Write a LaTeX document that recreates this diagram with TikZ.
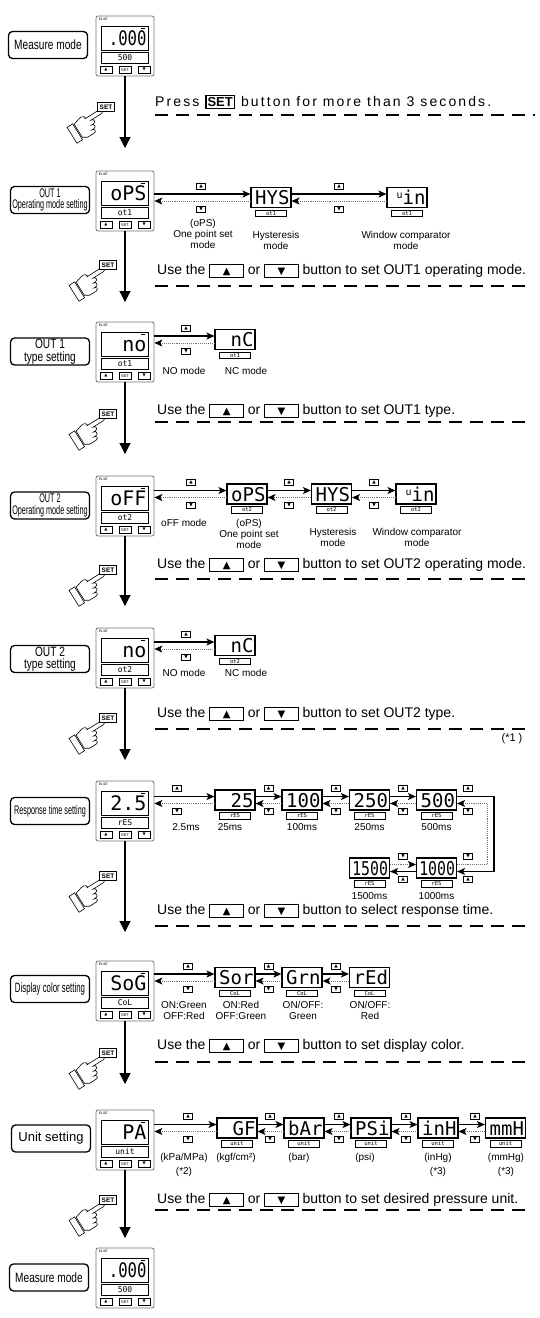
\documentclass[tikz,border=0pt]{standalone}
\usepackage{fontspec}
\setmainfont{Liberation Sans}
\newfontfamily\narrowfont[FakeStretch=0.75]{Liberation Sans}
\newfontfamily\xnarrowfont[FakeStretch=0.58]{Liberation Sans}
\newfontfamily\segfont{DejaVu Sans Mono}
\newfontfamily\segnarrow[FakeStretch=0.78]{DejaVu Sans Mono}
\newfontfamily\symfont{DejaVu Sans}
\newfontfamily\widefont[LetterSpace=15]{Liberation Sans}
\usetikzlibrary{positioning,arrows.meta}

\newcommand\upkey{{\symfont ▲}}
\newcommand\dnkey{{\symfont ▼}}
\newcommand\txtkey[1]{{\setlength\fboxsep{0pt}\setlength\fboxrule{0.8pt}\fbox{\makebox[33pt]{\rule[-2.5pt]{0pt}{12.5pt}\fontsize{10}{10}\symfont #1}}}}
\newcommand\txtset{{\setlength\fboxsep{1pt}\setlength\fboxrule{1.2pt}\fbox{\fontsize{13}{13}\rmfamily\bfseries SET}}}

% controller with display, sub display and keys
\newcommand\device[5]{%
  \node[devbox] (#1) at (#2,#3) {};
  \node[elsetag, anchor=north west] (#1e) at ([shift={(3pt,-2pt)}]#1.north west) {ELSE};
  \node[devlcd, anchor=north] (#1d) at ([yshift=-10pt]#1.north) {#4};
  \fill ([shift={(-8pt,-2pt)}]#1d.north east) rectangle ++(4pt,-1.5pt);
  \node[devsub, below=1pt of #1d] (#1s) {#5};
  \node[devkey, anchor=south west] (#1u) at ([shift={(4pt,3pt)}]#1.south west) {\upkey};
  \node[devkey, anchor=south] (#1k) at ([yshift=3pt]#1.south) {SET};
  \node[devkey, anchor=south east] (#1w) at ([shift={(-4pt,3pt)}]#1.south east) {\dnkey};
}
% small display
\newcommand\panel[5]{%
  \node[lcd] (#1) at (#2,#3) {#4};
  \node[lcdsub, below=1.5pt of #1] (#1s) {#5};
}
% up/down arrows between two displays
\newcommand\link[2]{%
  \draw[fwd] ([yshift=3.5pt]#2.west -| #1.east) -- ([yshift=3.5pt]#2.west);
  \draw[bwd] ([yshift=-3.5pt]#2.west) -- ([yshift=-3.5pt]#2.west -| #1.east);
}
\newcommand\keypair[5]{%
  \node[key] (#1a) at (#2,#3+11.5) {#4};
  \node[key] (#1b) at (#2,#3-11.5) {#5};
}
% hand pressing SET
\newcommand\pressset[3]{%
  \begin{scope}[shift={(#2-7,#3-3)}, rotate=32, scale=1.1, line width=0.6pt]
    \draw (0,0) arc[start angle=90,end angle=-90,radius=2]
      -- (-11,-4) .. controls (-8,-4) and (-8,-8) .. (-11,-8)
      -- (-13,-8) .. controls (-10,-8) and (-10,-12) .. (-13,-12)
      -- (-15,-12) .. controls (-12,-12) and (-12,-15.5) .. (-15,-15.5)
      -- (-22,-15.5) -- (-26,-13) -- (-26,1) -- (-19,3)
      .. controls (-16,4) and (-13,1) .. (-15,0) -- cycle;
    \draw (-33,-15) rectangle (-27,2);
  \end{scope}
  \node[setkey] (#1) at (#2,#3) {SET};
}

\begin{document}
\begin{tikzpicture}[x=1pt,y=1pt,
  lbl/.style={draw, line width=1.3pt, rounded corners=4pt, minimum width=79pt, minimum height=27pt, inner sep=1pt, align=center},
  devbox/.style={draw=black!55, line width=0.8pt, rounded corners=2pt, minimum width=58pt, minimum height=60pt, inner sep=0pt},
  elsetag/.style={font=\fontsize{3.5}{3.5}\selectfont\itshape, inner sep=0pt},
  devlcd/.style={draw, line width=1.2pt, minimum width=47pt, minimum height=24pt, inner sep=0pt, text width=43pt, align=right, text height=14pt, text depth=0pt, font=\fontsize{20}{20}\segfont},
  devsub/.style={draw, line width=0.9pt, minimum width=47pt, minimum height=11pt, inner sep=0pt, font=\fontsize{8}{8}\segfont},
  devkey/.style={draw, line width=0.5pt, minimum width=12pt, minimum height=6.5pt, inner sep=0pt, font=\fontsize{4}{4}\selectfont},
  lcd/.style={draw, line width=1.1pt, minimum width=40pt, minimum height=20pt, inner sep=0pt, text width=37pt, align=right, text height=14pt, text depth=0pt, font=\fontsize{19}{19}\segfont},
  lcdsub/.style={draw, line width=0.7pt, minimum width=31pt, minimum height=6.5pt, inner sep=0pt, font=\fontsize{5.5}{5.5}\segfont},
  key/.style={draw, line width=0.5pt, minimum width=9pt, minimum height=6pt, inner sep=0pt, font=\fontsize{4.5}{4.5}\symfont},
  setkey/.style={draw, fill=white, line width=0.7pt, minimum width=17pt, minimum height=9pt, inner sep=0.5pt, font=\fontsize{6.5}{6.5}\selectfont\bfseries},
  fwd/.style={line width=1.3pt, -{Stealth[length=8pt,width=7pt,inset=2pt]}},
  bwd/.style={line width=0.9pt, black!55, densely dotted, -{Stealth[length=8pt,width=7pt,inset=2pt,color=black]}},
  flow/.style={line width=1.2pt, -{Triangle[length=11pt,width=11pt]}},
  sepline/.style={line width=2pt, dash pattern=on 13pt off 8pt},
  instr/.style={anchor=west, inner sep=0pt, font=\fontsize{14}{14}\selectfont},
  note/.style={align=center, inner sep=0pt, anchor=north, font=\fontsize{10}{11}\selectfont}]
\useasboundingbox (0,0) rectangle (540,-1318);

% measure mode
\node[lbl, font=\fontsize{13.5}{14}\narrowfont] (L1) at (48,-45) {Measure mode};
\device{d1}{125}{-46}{{\segnarrow .000}}{500}
\pressset{s1}{106}{-107}
\node[instr, font=\fontsize{14}{14}\widefont] (i1) at (155,-102) {Press \txtset\ button for more than 3 seconds.};
\draw[sepline] (155,-115) -- (535,-115);
\coordinate (t1) at (125,-148);
\draw[flow] (d1.south) -- (t1);

% OUT1 operating mode
\node[lbl, font=\fontsize{12.5}{11.5}\xnarrowfont] (L2) at (50,-200) {OUT 1\\Operating mode setting};
\device{d2}{125}{-201}{oPS}{ot1}
\panel{p21}{271}{-197.5}{HYS}{ot1}
\panel{p22}{407}{-197.5}{{\fontsize{10}{10}\selectfont\raisebox{6pt}{u}}in}{ot1}
\link{d2}{p21}
\link{p21}{p22}
\keypair{k21}{201}{-197.5}{\upkey}{\dnkey}
\keypair{k22}{339}{-197.5}{\upkey}{\dnkey}
\node[note] (n21) at (203,-219) {(oPS)\\One point set\\mode};
\node[note] (n22) at (276,-231) {Hysteresis\\mode};
\node[note] (n23) at (406,-231) {Window comparator\\mode};
\pressset{s2}{108}{-265}
\node[instr] (i2) at (157,-271) {Use the \txtkey{▲} or \txtkey{▼} button to set OUT1 operating mode.};
\draw[sepline] (155,-286) -- (530,-286);
\coordinate (t2) at (125,-302);
\draw[flow] (d2.south) -- (t2);

% OUT1 type
\node[lbl, font=\fontsize{13.5}{12.5}\narrowfont] (L3) at (50,-351.5) {OUT 1\\type setting};
\device{d3}{125}{-352}{no}{ot1}
\panel{p31}{235}{-339.5}{nC}{ot1}
\link{d3}{p31}
\keypair{k31}{186}{-339.5}{\upkey}{\dnkey}
\node[note] (n31) at (184,-367) {NO mode};
\node[note] (n32) at (246,-367) {NC mode};
\pressset{s3}{108}{-414}
\node[instr] (i3) at (157,-411) {Use the \txtkey{▲} or \txtkey{▼} button to set OUT1 type.};
\draw[sepline] (155,-422) -- (530,-422);
\coordinate (t3) at (125,-454);
\draw[flow] (d3.south) -- (t3);

% OUT2 operating mode
\node[lbl, font=\fontsize{12.5}{11.5}\xnarrowfont] (L4) at (50,-505.5) {OUT 2\\Operating mode setting};
\device{d4}{125}{-506}{oFF}{ot2}
\panel{p41}{247}{-494}{oPS}{ot2}
\panel{p42}{331.5}{-494}{HYS}{ot2}
\panel{p43}{416}{-494}{{\fontsize{10}{10}\selectfont\raisebox{6pt}{u}}in}{ot2}
\link{d4}{p41}
\link{p41}{p42}
\link{p42}{p43}
\keypair{k41}{191}{-494}{\upkey}{\dnkey}
\keypair{k42}{289}{-494}{\upkey}{\dnkey}
\keypair{k43}{374}{-494}{\upkey}{\dnkey}
\node[note] (n41) at (184,-519) {oFF mode};
\node[note] (n42) at (249,-519) {(oPS)\\One point set\\mode};
\node[note] (n43) at (333,-528) {Hysteresis\\mode};
\node[note] (n44) at (417,-528) {Window comparator\\mode};
\pressset{s4}{108}{-570}
\node[instr] (i4) at (157,-565) {Use the \txtkey{▲} or \txtkey{▼} button to set OUT2 operating mode.};
\draw[sepline] (155,-579) -- (530,-579);
\coordinate (t4) at (125,-606);
\draw[flow] (d4.south) -- (t4);

% OUT2 type
\node[lbl, font=\fontsize{13.5}{12.5}\narrowfont] (L5) at (50,-659) {OUT 2\\type setting};
\device{d5}{125}{-658}{no}{ot2}
\panel{p51}{235}{-645.5}{nC}{ot2}
\link{d5}{p51}
\keypair{k51}{186}{-645.5}{\upkey}{\dnkey}
\node[note] (n51) at (184,-669) {NO mode};
\node[note] (n52) at (246,-669) {NC mode};
\pressset{s5}{108}{-718}
\node[instr] (i5) at (157,-714) {Use the \txtkey{▲} or \txtkey{▼} button to set OUT2 type.};
\draw[sepline] (155,-729) -- (530,-729);
\node[inner sep=0pt, font=\fontsize{11}{11}\selectfont] (c1) at (512,-739) {(*1 )};
\coordinate (t5) at (125,-760);
\draw[flow] (d5.south) -- (t5);

% response time
\node[lbl, font=\fontsize{12.5}{12}\xnarrowfont] (L6) at (50,-811) {Response time setting};
\device{d6}{125}{-811}{2.5}{rES}
\panel{p61}{235}{-800}{25}{rES}
\panel{p62}{302}{-800}{100}{rES}
\panel{p63}{369.5}{-800}{250}{rES}
\panel{p64}{436.5}{-800}{500}{rES}
\panel{p65}{436.5}{-868}{{\segnarrow 1000}}{rES}
\panel{p66}{369.5}{-868}{{\segnarrow 1500}}{rES}
\link{d6}{p61}
\link{p61}{p62}
\link{p62}{p63}
\link{p63}{p64}
\coordinate (rc) at (494,-800);
\coordinate (rd) at (487,-800);
\draw[fwd] ([yshift=3.5pt]p64.east) -- ([yshift=3.5pt]p64.east -| rc) |- ([yshift=-3.5pt]p65.east);
\draw[bwd] ([yshift=3.5pt]p65.east) -- ([yshift=3.5pt]p65.east -| rd) |- ([yshift=-3.5pt]p64.east);
\draw[bwd] ([yshift=3.5pt]p66.east) -- ([yshift=3.5pt]p65.west);
\draw[fwd] ([yshift=-3.5pt]p65.west) -- ([yshift=-3.5pt]p66.east);
\keypair{k61}{177}{-800}{\upkey}{\dnkey}
\keypair{k62}{268.5}{-800}{\upkey}{\dnkey}
\keypair{k63}{336}{-800}{\upkey}{\dnkey}
\keypair{k64}{403}{-800}{\upkey}{\dnkey}
\keypair{k65}{468}{-800}{\upkey}{\dnkey}
\keypair{k66}{403}{-868}{\dnkey}{\upkey}
\keypair{k67}{468}{-868}{\dnkey}{\upkey}
\node[note] (n61) at (186,-823) {2.5ms};
\node[note] (n62) at (230,-823) {25ms};
\node[note] (n63) at (302,-823) {100ms};
\node[note] (n64) at (369.5,-823) {250ms};
\node[note] (n65) at (436.5,-823) {500ms};
\node[note] (n66) at (369.5,-892) {1500ms};
\node[note] (n67) at (436.5,-892) {1000ms};
\pressset{s6}{108}{-876}
\node[instr] (i6) at (157,-911) {Use the \txtkey{▲} or \txtkey{▼} button to select response time.};
\draw[sepline] (155,-926) -- (530,-926);
\coordinate (t6) at (125,-932);
\draw[flow] (d6.south) -- (t6);

% display color
\node[lbl, font=\fontsize{13.5}{12}\xnarrowfont] (L7) at (50,-989) {Display color setting};
\device{d7}{125}{-991}{SoG}{CoL}
\panel{p71}{235}{-977.5}{Sor}{CoL}
\panel{p72}{302}{-977.5}{Grn}{CoL}
\panel{p73}{369.5}{-977.5}{rEd}{CoL}
\link{d7}{p71}
\link{p71}{p72}
\link{p72}{p73}
\keypair{k71}{188}{-977.5}{\upkey}{\dnkey}
\keypair{k72}{268.5}{-977.5}{\upkey}{\dnkey}
\keypair{k73}{336}{-977.5}{\upkey}{\dnkey}
\node[note] (n71) at (184,-1001) {ON:Green\\OFF:Red};
\node[note] (n72) at (241,-1001) {ON:Red\\OFF:Green};
\node[note] (n73) at (303,-1001) {ON/OFF:\\Green};
\node[note] (n74) at (370,-1001) {ON/OFF:\\Red};
\pressset{s7}{108}{-1053}
\node[instr] (i7) at (157,-1046) {Use the \txtkey{▲} or \txtkey{▼} button to set display color.};
\draw[sepline] (155,-1062) -- (530,-1062);
\coordinate (t7) at (125,-1084);
\draw[flow] (d7.south) -- (t7);

% unit
\node[lbl, font=\fontsize{13}{13}\selectfont] (L8) at (51,-1138.5) {Unit setting};
\device{d8}{125}{-1140}{PA}{unit}
\panel{p81}{237}{-1128}{GF}{unit}
\panel{p82}{304}{-1128}{bAr}{unit}
\panel{p83}{371}{-1128}{PSi}{unit}
\panel{p84}{438}{-1128}{inH}{unit}
\panel{p85}{505.5}{-1128}{mmH}{unit}
\link{d8}{p81}
\link{p81}{p82}
\link{p82}{p83}
\link{p83}{p84}
\link{p84}{p85}
\keypair{k81}{188}{-1128}{\upkey}{\dnkey}
\keypair{k82}{270}{-1128}{\upkey}{\dnkey}
\keypair{k83}{339}{-1128}{\upkey}{\dnkey}
\keypair{k84}{406}{-1128}{\upkey}{\dnkey}
\keypair{k85}{475}{-1128}{\upkey}{\dnkey}
\node[note] (n81) at (184,-1153) {(kPa/MPa)\\[3pt](*2)};
\node[note] (n82) at (236,-1153) {(kgf/cm²)};
\node[note] (n83) at (299,-1153) {(bar)};
\node[note] (n84) at (365,-1153) {(psi)};
\node[note] (n85) at (438,-1153) {(inHg)\\[3pt](*3)};
\node[note] (n86) at (506,-1153) {(mmHg)\\[3pt](*3)};
\pressset{s8}{108}{-1200}
\node[instr] (i8) at (157,-1200) {Use the \txtkey{▲} or \txtkey{▼} button to set desired pressure unit.};
\draw[sepline] (155,-1210) -- (530,-1210);
\coordinate (t8) at (125,-1238);
\draw[flow] (d8.south) -- (t8);

% back to measure mode
\node[lbl, font=\fontsize{13.5}{14}\narrowfont] (L9) at (49,-1277.5) {Measure mode};
\device{d9}{125}{-1278}{{\segnarrow .000}}{500}
\end{tikzpicture}
\end{document}
